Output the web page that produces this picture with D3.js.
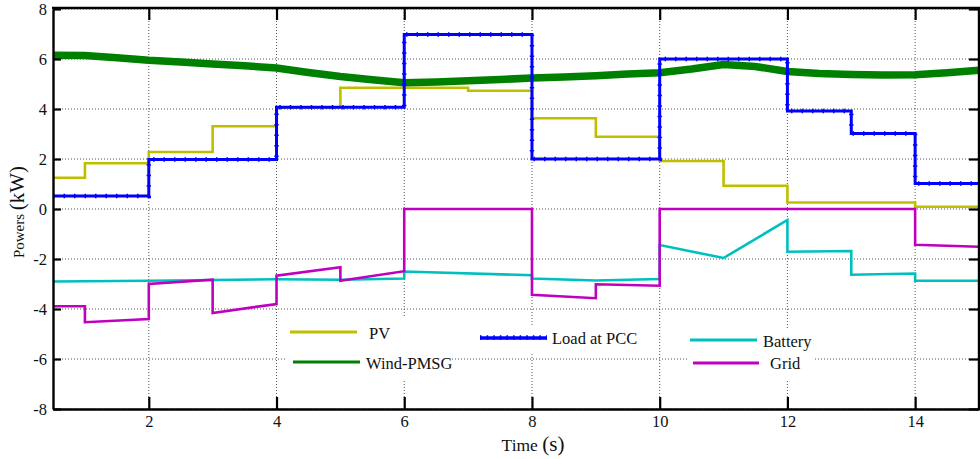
<!DOCTYPE html>
<html><head><meta charset="utf-8">
<script src="https://cdn.jsdelivr.net/npm/d3@7"></script>
<style>
html,body{margin:0;padding:0;background:#fff;}
svg{display:block;}
</style></head><body>
<svg id="chart" width="980" height="459"></svg>
<script>
// Time axis in seconds, powers in kW
const xTicks = [2, 4, 6, 8, 10, 12, 14];
const yTicks = [-8, -6, -4, -2, 0, 2, 4, 6, 8];

// PV output: change times and the level held from each time on
const pvTime  = [0.5, 1, 2, 3, 4, 5, 7, 8, 9, 10, 11, 12, 14, 15];
const pvPower = [1.25, 1.83, 2.28, 3.31, 4.05, 4.85, 4.73, 3.63, 2.89, 1.92, 0.93, 0.26, 0.09, 0.09];

// Load demand at the point of common coupling
const loadTime  = [0.5, 2, 4, 6, 8, 10, 12, 13, 14, 15];
const loadPower = [0.52, 1.98, 4.07, 6.98, 2.0, 6.0, 3.92, 3.02, 1.02, 1.02];

// Wind (PMSG) output, slowly varying
const windTime  = [0.5, 1, 1.5, 2, 2.5, 3, 3.5, 4, 4.5, 5, 5.5, 6, 6.5, 7, 7.5, 8, 8.5, 9, 9.5, 10, 10.5, 11, 11.5, 12, 12.5, 13, 13.5, 14, 14.5, 15];
const windPower = [6.15, 6.14, 6.05, 5.95, 5.88, 5.8, 5.73, 5.64, 5.46, 5.3, 5.17, 5.05, 5.08, 5.13, 5.18, 5.24, 5.28, 5.33, 5.4, 5.45, 5.6, 5.78, 5.7, 5.5, 5.42, 5.38, 5.36, 5.37, 5.45, 5.55];

// Battery power (negative while charging)
const batteryTime  = [0.5, 2, 4, 5, 6, 6, 8, 8, 9, 10, 10, 11, 12, 12, 13, 13, 14, 14, 15];
const batteryPower = [-2.9, -2.87, -2.81, -2.83, -2.78, -2.5, -2.65, -2.78, -2.86, -2.8, -1.44, -1.96, -0.44, -1.71, -1.68, -2.63, -2.58, -2.87, -2.87];

// Power exchanged with the grid
const gridTime  = [0.5, 1, 1, 2, 2, 3, 3, 4, 4, 5, 5, 6, 6, 8, 8, 9, 9, 10, 10, 14, 14, 15];
const gridPower = [-3.89, -3.89, -4.53, -4.4, -3.0, -2.83, -4.16, -3.8, -2.67, -2.33, -2.87, -2.49, 0, 0, -3.43, -3.57, -3.01, -3.07, 0, 0, -1.43, -1.51];

// Series names and colours
const seriesNames  = ["PV", "Wind-PMSG", "Load at PCC", "Battery", "Grid"];
const seriesColors = ["#bfbf00", "#008000", "#0000ff", "#00bfbf", "#bf00bf"];

const FONT = "'Liberation Serif', 'Times New Roman', Tinos, 'DejaVu Serif', serif";

const svg = d3.select("#chart").attr("font-family", FONT);
const W = 980, H = 459;
const pLeft = 53, pRight = 979, pTop = 9, pBottom = 409;

svg.append("rect").attr("width", W).attr("height", H).attr("fill", "#fff");

const x = d3.scaleLinear().domain([0.5, 15]).range([pLeft, pRight]);
const y = d3.scaleLinear().domain([-8, 8]).range([pBottom, pTop]);

// dotted grid
const grid = svg.append("g").attr("stroke", "#555").attr("stroke-width", 1).attr("stroke-dasharray", "1,2");
grid.selectAll("line.v").data(xTicks).join("line").attr("class", "v")
  .attr("x1", d => x(d)).attr("x2", d => x(d)).attr("y1", pBottom).attr("y2", pTop);
grid.selectAll("line.h").data(yTicks).join("line").attr("class", "h")
  .attr("x1", pLeft).attr("x2", pRight).attr("y1", d => y(d)).attr("y2", d => y(d));

// legend backgrounds hide the grid behind the entries
const legendBoxes = [[287, 318, 165, 63], [476, 325, 166, 28], [687, 330, 128, 50]];
svg.append("g").selectAll("rect").data(legendBoxes).join("rect")
  .attr("x", d => d[0]).attr("y", d => d[1]).attr("width", d => d[2]).attr("height", d => d[3])
  .attr("fill", "#fff");

const zip = (t, v) => t.map((d, i) => [d, v[i]]);
const lineLin = d3.line().x(d => x(d[0])).y(d => y(d[1]));
const lineStep = d3.line().x(d => x(d[0])).y(d => y(d[1])).curve(d3.curveStepAfter);

const plot = svg.append("g").attr("fill", "none").attr("stroke-linejoin", "miter");

// PV
plot.append("path").attr("d", lineStep(zip(pvTime, pvPower)))
  .attr("stroke", seriesColors[0]).attr("stroke-width", 2.6);
// Wind
plot.append("path").attr("d", lineLin(zip(windTime, windPower)))
  .attr("stroke", seriesColors[1]).attr("stroke-width", 7.5);
// Load: solid trace with small beads along it
plot.append("path").attr("d", lineStep(zip(loadTime, loadPower)))
  .attr("stroke", seriesColors[2]).attr("stroke-width", 3);
plot.append("path").attr("d", lineStep(zip(loadTime, loadPower)))
  .attr("stroke", seriesColors[2]).attr("stroke-width", 4.4).attr("stroke-dasharray", "1.5,9");
// Battery
plot.append("path").attr("d", lineLin(zip(batteryTime, batteryPower)))
  .attr("stroke", seriesColors[3]).attr("stroke-width", 2.6);
// Grid
plot.append("path").attr("d", lineLin(zip(gridTime, gridPower)))
  .attr("stroke", seriesColors[4]).attr("stroke-width", 2.6);

// axes with inward ticks on all four sides
const fmt = d => String(d);
const gB = svg.append("g").attr("transform", `translate(0,${pBottom})`)
  .call(d3.axisBottom(x).tickValues(xTicks).tickSize(-12).tickSizeOuter(0).tickPadding(6).tickFormat(fmt));
const gL = svg.append("g").attr("transform", `translate(${pLeft},0)`)
  .call(d3.axisLeft(y).tickValues(yTicks).tickSize(-8).tickSizeOuter(0).tickPadding(6).tickFormat(fmt));
const gT = svg.append("g").attr("transform", `translate(0,${pTop - 1})`)
  .call(d3.axisTop(x).tickValues(xTicks).tickSize(-12).tickSizeOuter(0).tickFormat(""));
const gR = svg.append("g").attr("transform", `translate(${pRight},0)`)
  .call(d3.axisRight(y).tickValues(yTicks).tickSize(-10).tickSizeOuter(0).tickFormat(""));
[gB, gL, gT, gR].forEach(g => {
  g.attr("font-family", FONT).attr("font-size", null);
  g.selectAll(".domain").attr("stroke", "#000").attr("stroke-width", 2.4);
  g.selectAll(".tick line").attr("stroke", "#000").attr("stroke-width", 2.2);
  g.selectAll(".tick text").attr("font-family", FONT).style("font-size", "16.5px").attr("fill", "#111");
});
gR.select(".domain").attr("d", `M0,${pTop - 2}V${pBottom + 1}`);
gT.select(".domain").attr("d", `M${pLeft - 1},0H${pRight + 1}`);

// axis titles
svg.append("text").attr("x", 533).attr("y", 451).attr("text-anchor", "middle")
  .attr("font-family", FONT).attr("fill", "#111")
  .call(t => {
    t.append("tspan").style("font-size", "17.5px").text("Time ");
    t.append("tspan").style("font-size", "21px").text("(s)");
  });
svg.append("text").attr("transform", "translate(24,212) rotate(-90)").attr("text-anchor", "middle")
  .attr("font-family", FONT).attr("fill", "#111")
  .call(t => {
    t.append("tspan").style("font-size", "15px").text("Powers ");
    t.append("tspan").style("font-size", "21px").text("(kW)");
  });

// legend entries
const legendLines = [[290, 357, 332], [293, 360, 362], [480, 547, 338], [690, 757, 340], [693, 759, 363]];
const legendText  = [[369, 339], [366, 369], [552, 344], [763, 347], [770, 369]];
const lg = svg.append("g");
seriesNames.forEach((name, i) => {
  const [x1, x2, ly] = legendLines[i];
  lg.append("line").attr("x1", x1).attr("x2", x2).attr("y1", ly).attr("y2", ly)
    .attr("stroke", seriesColors[i]).attr("stroke-width", i === 2 ? 3.4 : 2.8);
  if (i === 2) {
    lg.append("line").attr("x1", x1).attr("x2", x2).attr("y1", ly - 0.5).attr("y2", ly - 0.5)
      .attr("stroke", seriesColors[i]).attr("stroke-width", 4.4).attr("stroke-dasharray", "1.6,5");
  }
  lg.append("text").attr("x", legendText[i][0]).attr("y", legendText[i][1])
    .attr("font-family", FONT).attr("fill", "#111")
    .style("font-size", "16.5px").text(name);
});
</script>
</body></html>
